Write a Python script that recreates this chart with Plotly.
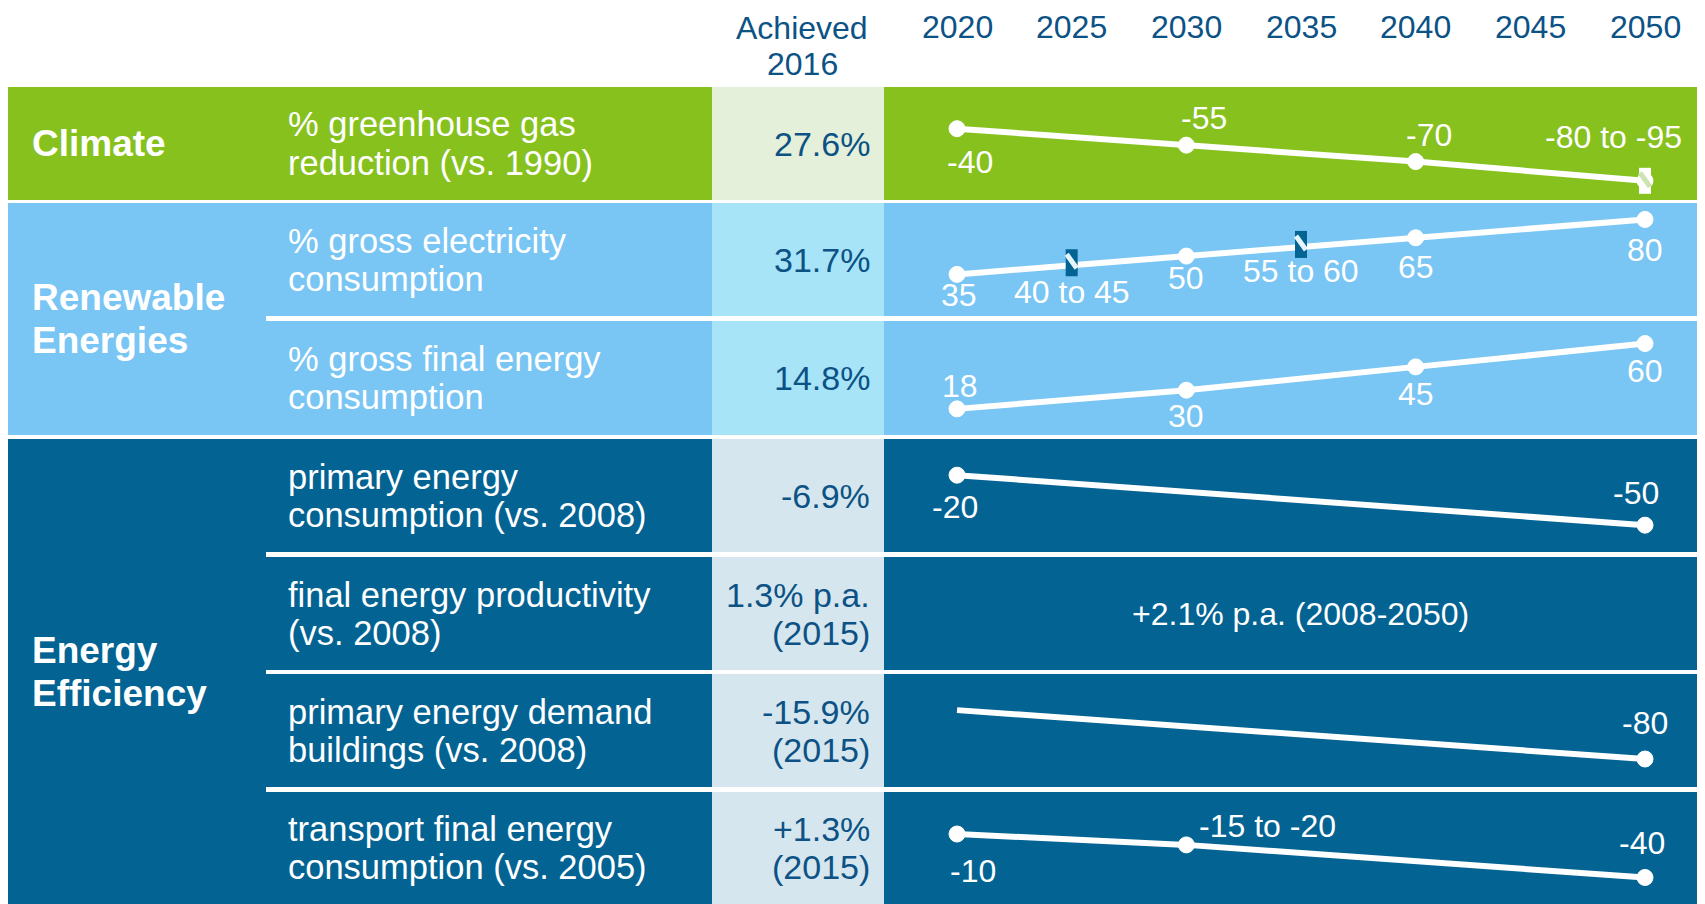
import plotly.graph_objects as go

# page body has an 8px margin; the figure fills the rest of the 1705x904 window
OFF = 8
W, H = 1705 - OFF, 904 - OFF

# ------------------------------------------------------------------ data
categories = ["Climate", "Renewable<br>Energies", "Energy<br>Efficiency"]
indicators = [
    "% greenhouse gas<br>reduction (vs. 1990)",
    "% gross electricity<br>consumption",
    "% gross final energy<br>consumption",
    "primary energy<br>consumption (vs. 2008)",
    "final energy productivity<br>(vs. 2008)",
    "primary energy demand<br>buildings (vs. 2008)",
    "transport final energy<br>consumption (vs. 2005)",
]
achieved_header = "Achieved<br>2016"
achieved_2016 = ["27.6%", "31.7%", "14.8%", "-6.9%",
                 "1.3% p.a.<br>(2015)", "-15.9%<br>(2015)", "+1.3%<br>(2015)"]
header_years = [2020, 2025, 2030, 2035, 2040, 2045, 2050]

ghg_years = [2020, 2030, 2040, 2050]
ghg_values = [-40, -55, -70, -87.5]
ghg_labels = ["-40", "-55", "-70", "-80 to -95"]

elec_years = [2020, 2025, 2030, 2035, 2040, 2050]
elec_values = [35, 42.5, 50, 57.5, 65, 80]
elec_labels = ["35", "40 to 45", "50", "55 to 60", "65", "80"]

final_years = [2020, 2030, 2040, 2050]
final_values = [18, 30, 45, 60]
final_labels = ["18", "30", "45", "60"]

primary_years = [2020, 2050]
primary_values = [-20, -50]
primary_labels = ["-20", "-50"]

productivity_target = "+2.1% p.a. (2008-2050)"

buildings_years = [2020, 2050]
buildings_values = [0, -80]          # line starts from the (unlabelled) 2008 baseline
buildings_labels = ["", "-80"]

transport_years = [2020, 2030, 2050]
transport_values = [-10, -17.5, -40]
transport_labels = ["-10", "-15 to -20", "-40"]

# ------------------------------------------------------------------ style
FONT = "Liberation Sans, Arial, sans-serif"
GREEN, GREEN_ACH = "#86C11E", "#E4F0D9"
LBLUE, LBLUE_ACH = "#79C5F4", "#A8E4F8"
DBLUE, DBLUE_ACH = "#036393", "#D5E6EF"
NAVY = "#0C5285"

# screen-pixel geometry (of the 1705x904 window)
row_px = [(87, 200), (203, 316), (321, 435), (439, 552), (557, 670), (674, 787), (792, 904)]
row_fill = [GREEN, LBLUE, LBLUE, DBLUE, DBLUE, DBLUE, DBLUE]
row_ach = [GREEN_ACH, LBLUE_ACH, LBLUE_ACH, DBLUE_ACH, DBLUE_ACH, DBLUE_ACH, DBLUE_ACH]
cat_rows = [(0, 0), (1, 2), (3, 6)]
cat_fill = [GREEN, LBLUE, DBLUE]

X_LEFT, X_DESC, X_ACH0, X_ACH1 = 8, 266, 712, 884


def px_x(p):
    return (p - OFF) / W


def px_y(p):
    return 1 - (p - OFF) / H


series = [
    dict(row=0, years=ghg_years, values=ghg_values, labels=ghg_labels, yrange=[-105, -2],
         shifts=[(13, -33), (18, 27), (13, 27), (-32, 44)], sizes=[16, 16, 16, 16],
         hatch=[False, False, False, True], hfill="#FFFFFF", hstripe="#CDE4B2", hy=(-13, 13)),
    dict(row=1, years=elec_years, values=elec_values, labels=elec_labels, yrange=[0.9, 93.5],
         shifts=[(2, -21), (0, -27), (0, -22), (0, -24), (0, -29), (0, -31)],
         sizes=[16, 0, 16, 0, 16, 16],
         hatch=[False, True, False, True, False, False], hfill=DBLUE, hstripe="#E6F4FB", hy=(-11, 16)),
    dict(row=2, years=final_years, values=final_values, labels=final_labels, yrange=[1.2, 74.5],
         shifts=[(3, 23), (0, -26), (0, -27), (0, -27)], sizes=[16, 16, 16, 16],
         hatch=[False] * 4),
    dict(row=3, years=primary_years, values=primary_values, labels=primary_labels, yrange=[-66.1, 1.7],
         shifts=[(-2, -32), (-9, 32)], sizes=[16, 16], hatch=[False] * 2),
    dict(row=5, years=buildings_years, values=buildings_values, labels=buildings_labels,
         yrange=[-125.8, 59.1], shifts=[(0, 0), (0, 36)], sizes=[0, 16], hatch=[False] * 2),
    dict(row=6, years=transport_years, values=transport_values, labels=transport_labels,
         yrange=[-58.3, 19], shifts=[(16, -37), (81, 19), (-3, 34)], sizes=[16, 16, 16],
         hatch=[False] * 3),
]

fig = go.Figure()
shapes, annotations = [], []
layout_axes = {}

# background bands
for (r0, r1), col in zip(cat_rows, cat_fill):
    shapes.append(dict(type="rect", xref="paper", yref="paper", layer="below",
                       x0=px_x(X_LEFT), x1=px_x(X_DESC), y0=px_y(row_px[r1][1]), y1=px_y(row_px[r0][0]),
                       fillcolor=col, line=dict(width=0)))
for (t, b), col, ach in zip(row_px, row_fill, row_ach):
    shapes.append(dict(type="rect", xref="paper", yref="paper", layer="below",
                       x0=px_x(X_DESC), x1=1, y0=px_y(b), y1=px_y(t),
                       fillcolor=col, line=dict(width=0)))
    shapes.append(dict(type="rect", xref="paper", yref="paper", layer="below",
                       x0=px_x(X_ACH0), x1=px_x(X_ACH1), y0=px_y(b), y1=px_y(t),
                       fillcolor=ach, line=dict(width=0)))

# header
for i, line in enumerate(achieved_header.split("<br>")):
    annotations.append(dict(xref="paper", yref="paper", x=px_x(802), y=px_y(28 + 36 * i),
                            text=line, showarrow=False, xanchor="center", yanchor="middle",
                            borderpad=0, font=dict(family=FONT, size=32, color=NAVY)))
for yr in header_years:
    annotations.append(dict(xref="x", yref="paper", x=yr, y=px_y(27), text=str(yr),
                            showarrow=False, xanchor="center", yanchor="middle",
                            borderpad=0, font=dict(family=FONT, size=32, color=NAVY)))

# category labels
for (r0, r1), cat in zip(cat_rows, categories):
    c = (row_px[r0][0] + row_px[r1][1]) / 2
    lines = cat.split("<br>")
    n = len(lines)
    for i, line in enumerate(lines):
        yy = c + (i - (n - 1) / 2) * 43
        annotations.append(dict(xref="paper", yref="paper", x=px_x(30), y=px_y(yy), text="<b>%s</b>" % line,
                                showarrow=False, xanchor="left", yanchor="middle",
                                font=dict(family=FONT, size=37, color="white")))

# indicator descriptions and achieved values
for (t, b), desc, ach in zip(row_px, indicators, achieved_2016):
    c = (t + b) / 2
    lines = desc.split("<br>")
    for i, line in enumerate(lines):
        yy = c + (i - (len(lines) - 1) / 2) * 38
        annotations.append(dict(xref="paper", yref="paper", x=px_x(286), y=px_y(yy), text=line,
                                showarrow=False, xanchor="left", yanchor="middle",
                                font=dict(family=FONT, size=34.5, color="white")))
    lines = ach.split("<br>")
    for i, line in enumerate(lines):
        yy = c + (i - (len(lines) - 1) / 2) * 38
        annotations.append(dict(xref="paper", yref="paper", x=px_x(872), y=px_y(yy), text=line,
                                showarrow=False, xanchor="right", yanchor="middle",
                                font=dict(family=FONT, size=34, color=NAVY)))

# productivity target text
pt, pb = row_px[4]
annotations.append(dict(xref="paper", yref="paper", x=px_x(1300), y=px_y((pt + pb) / 2),
                        text=productivity_target, showarrow=False, xanchor="center", yanchor="middle",
                        font=dict(family=FONT, size=32, color="white")))

# target lines
for s in series:
    r = s["row"]
    ax_id = "y" if r == 0 else "y%d" % (r + 1)
    key = "yaxis" if r == 0 else "yaxis%d" % (r + 1)
    t, b = row_px[r]
    layout_axes[key] = dict(domain=[max(0, px_y(b)), px_y(t)], range=s["yrange"], visible=False,
                            anchor="x", fixedrange=True)
    fig.add_trace(go.Scatter(
        x=s["years"], y=s["values"], xaxis="x", yaxis=ax_id, mode="lines+markers",
        line=dict(color="white", width=6),
        marker=dict(color="white", size=s["sizes"], opacity=1, line=dict(width=1, color="white")),
        hoverinfo="skip", showlegend=False, cliponaxis=False))
    for yr, v, lab, (dx, dy) in zip(s["years"], s["values"], s["labels"], s["shifts"]):
        if lab:
            annotations.append(dict(xref="x", yref=ax_id, x=yr, y=v, text=lab, showarrow=False,
                                    xshift=dx, yshift=dy, xanchor="center", yanchor="middle",
                                    font=dict(family=FONT, size=32, color="white")))
    for yr, v, h in zip(s["years"], s["values"], s["hatch"]):
        if h:
            ylo, yhi = s["hy"]
            shapes.append(dict(type="rect", xref="x", yref=ax_id, xsizemode="pixel", ysizemode="pixel",
                               xanchor=yr, yanchor=v, x0=-6, x1=6, y0=ylo, y1=yhi,
                               fillcolor=s["hfill"], line=dict(width=0), layer="above"))
            shapes.append(dict(type="line", xref="x", yref=ax_id, xsizemode="pixel", ysizemode="pixel",
                               xanchor=yr, yanchor=v, x0=-5, x1=5, y0=yhi - 5, y1=yhi - 19,
                               line=dict(color=s["hstripe"], width=5), layer="above"))

fig.update_layout(
    width=W, height=H, margin=dict(l=0, r=0, t=0, b=0),
    paper_bgcolor="white", plot_bgcolor="white",
    xaxis=dict(domain=[0, 1], range=[1978.618, 2052.616], visible=False, fixedrange=True),
    shapes=shapes, annotations=annotations, showlegend=False,
    **layout_axes,
)

fig.write_html("out.html")
